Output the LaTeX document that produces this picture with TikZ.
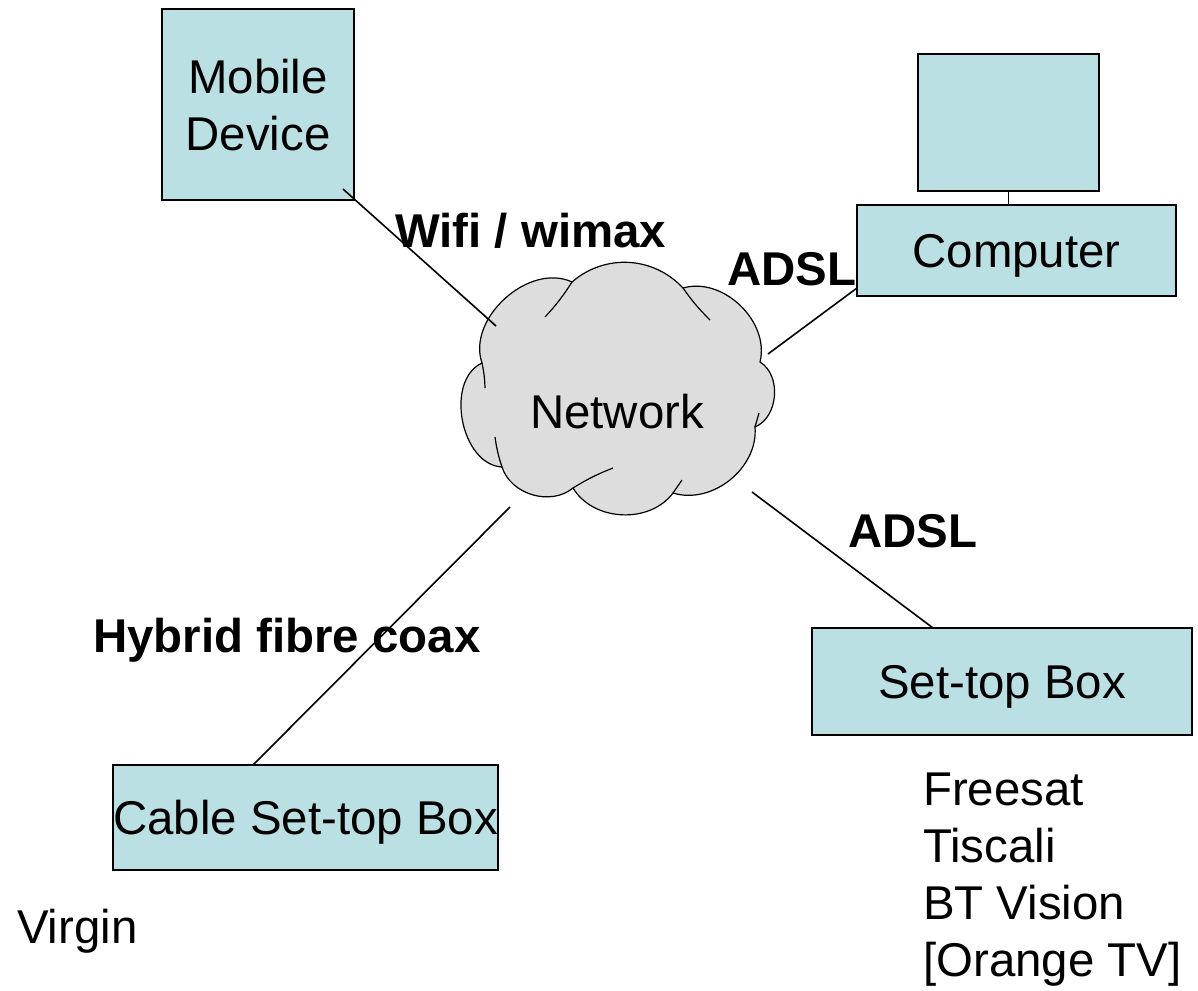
\documentclass[tikz,border=0pt]{standalone}
\usepackage{fontspec}
\setmainfont{Liberation Sans}
\definecolor{boxfill}{RGB}{187,224,227}
\definecolor{cloudfill}{RGB}{221,221,221}
\begin{document}
\begin{tikzpicture}[x=1pt,y=-1pt,
  txt/.style={font=\fontsize{47.4}{57}\selectfont, inner sep=0pt},
  lbl/.style={font=\fontsize{47.4}{57}\selectfont\bfseries, inner sep=0pt, anchor=base west},
  devbox/.style={draw=black, line width=2pt, fill=boxfill, inner sep=0pt, font=\fontsize{47.4}{57}\selectfont},
  oneline/.style={text height=34pt, text depth=0pt},
  link/.style={draw=black, line width=1.6pt},
  cloudline/.style={draw=black, line width=1.2pt},
  ]
\useasboundingbox (0,0) rectangle (1198,990);

% cloud
\draw[cloudline, fill=cloudfill] (482,363) to[bend left=67] (572,282) to[bend left=44] (683,288)
  to[bend left=60] (760,362) to[bend left=63] (755,427) to[bend left=56] (673,493)
  to[bend left=56] (573,488) to[bend left=56] (502,467) to[bend left=76] (482,363) -- cycle;
\draw[cloudline] (572,282) to[bend left=5] (545,317);
\draw[cloudline] (683,288) to[bend right=5] (710,320);
\draw[cloudline] (482,363) to[bend left=5] (485,388);
\draw[cloudline] (755,427) -- (759,413);
\draw[cloudline] (502,467) to[bend left=5] (495,437);
\draw[cloudline] (573,488) to[bend left=5] (613,468);
\draw[cloudline] (673,493) -- (682,480);
\node[txt, anchor=base] (net) at (617,428) {Network};

% devices
\node[devbox, minimum width=192pt, minimum height=191pt, align=center] (mob) at (258,104.5) {\rule{0pt}{36pt}Mobile\\Device};
\node[devbox, minimum width=181pt, minimum height=137pt] (mon) at (1008.5,122.5) {};
\node[devbox, oneline, minimum width=319pt, minimum height=91pt] (comp) at (1016.5,250.5) {Computer};
\draw[link] (mon.south) -- (mon.south |- comp.north);
\node[devbox, oneline, minimum width=380pt, minimum height=107pt] (stb) at (1002,681.5) {Set-top Box};
\node[devbox, oneline, minimum width=379pt, minimum height=105pt] (cable) at (305.5,817.5) {Cable Set-top Box};

% connector end points
\coordinate (mA) at (343,189);
\coordinate (mB) at (496,326);
\coordinate (cA) at (768,354);
\coordinate (cB) at (857,288);
\coordinate (sA) at (752,492);
\coordinate (sB) at (933,628);
\coordinate (hA) at (510,507);
\coordinate (hB) at (253,765);
\draw[link] (mA) -- (mB);
\draw[link] (cA) -- (cB);
\draw[link] (sA) -- (sB);
\draw[link] (hA) -- (hB);

% labels
\node[lbl] (wifi) at (395,247) {Wifi / wimax};
\node[lbl] (adsl1) at (727,285) {ADSL};
\node[lbl] (adsl2) at (848,547) {ADSL};
\node[lbl] (hfc) at (93,652) {Hybrid fibre coax};
\node[txt, anchor=base west] (virgin) at (17,943) {Virgin};
\node[txt, anchor=base west, align=left] (list) at (923,976) {Freesat\\Tiscali\\BT Vision\\{}[Orange TV]};
\end{tikzpicture}
\end{document}
